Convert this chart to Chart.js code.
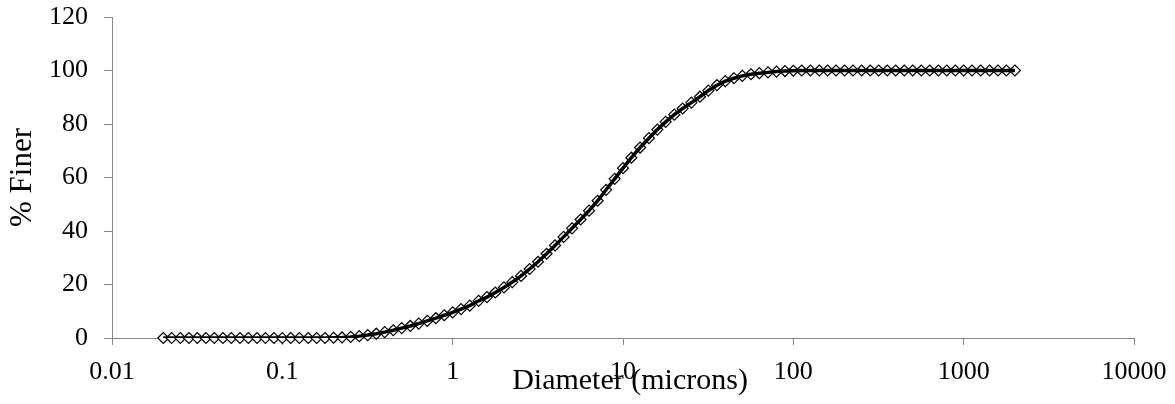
<!DOCTYPE html>
<html>
<head>
<meta charset="utf-8">
<script src="https://cdn.jsdelivr.net/npm/chart.js"></script>
<style>
  html, body { margin: 0; padding: 0; background: #fff; }
  #wrap { width: 1175px; height: 404px; }
</style>
</head>
<body>
<div id="wrap"><canvas id="chart" width="1175" height="404"></canvas></div>
<script>
// particle size classes (microns)
const diameters = [
    0.02, 0.0224, 0.0252, 0.0283, 0.0317, 0.0356, 0.0399, 0.0448, 0.0502, 0.0564,
    0.0632, 0.0710, 0.0796, 0.0893, 0.100, 0.112, 0.126, 0.142, 0.159, 0.178,
    0.200, 0.224, 0.252, 0.283, 0.317, 0.356, 0.399, 0.448, 0.502, 0.564,
    0.632, 0.710, 0.796, 0.893, 1.00, 1.12, 1.26, 1.42, 1.59, 1.78,
    2.00, 2.24, 2.52, 2.83, 3.17, 3.56, 3.99, 4.48, 5.02, 5.64,
    6.32, 7.10, 7.96, 8.93, 10.0, 11.2, 12.6, 14.2, 15.9, 17.8,
    20.0, 22.4, 25.2, 28.3, 31.7, 35.6, 39.9, 44.8, 50.2, 56.4,
    63.2, 71.0, 79.6, 89.3, 100, 112, 126, 142, 159, 178,
    200, 224, 252, 283, 317, 356, 399, 448, 502, 564,
    632, 710, 796, 893, 1000, 1120, 1260, 1420, 1590, 1780,
    2000
]

// cumulative % finer for each class
const percentFiner = [
    0, 0, 0, 0, 0, 0, 0, 0, 0, 0,
    0, 0, 0, 0, 0, 0, 0, 0, 0, 0,
    0.1, 0.2, 0.4, 0.7, 1.1, 1.6, 2.2, 2.9, 3.7, 4.5,
    5.4, 6.4, 7.4, 8.5, 9.6, 10.8, 12.1, 13.9, 15.3, 17.0,
    18.9, 20.9, 23.2, 25.8, 28.5, 31.5, 34.6, 37.8, 41.0, 44.3,
    47.6, 51.3, 55.4, 59.5, 63.5, 67.4, 71.2, 74.7, 77.9, 80.8,
    83.5, 85.8, 88.0, 90.2, 92.5, 94.5, 96.0, 97.1, 98.0, 98.6,
    99.0, 99.3, 99.6, 99.8, 99.9, 100, 100, 100, 100, 100,
    100, 100, 100, 100, 100, 100, 100, 100, 100, 100,
    100, 100, 100, 100, 100, 100, 100, 100, 100, 100,
    100
]

const xTicks = [0.01, 0.1, 1, 10, 100, 1000, 10000]
const yTicks = [0, 20, 40, 60, 80, 100, 120]

const points = diameters.map((d, i) => ({ x: d, y: percentFiner[i] }))

const axisColor = '#868686'
const serif = "'Liberation Serif', 'Times New Roman', serif"

// x title sits over the tick labels
const xTitle = {
    id: 'xTitle',
    afterDraw(chart) {
        const { ctx, chartArea } = chart
        ctx.save()
        ctx.font = '30px ' + serif
        ctx.fillStyle = '#000'
        ctx.textAlign = 'center'
        ctx.textBaseline = 'alphabetic'
        ctx.fillText('Diameter (microns)', (chartArea.left + chartArea.right) / 2 + 7, 389)
        ctx.restore()
    }
}

new Chart(document.getElementById('chart'), {
    type: 'scatter',
    data: {
        datasets: [
            {
                label: 'line',
                data: points,
                showLine: true,
                borderColor: '#000',
                borderWidth: 3.5,
                pointRadius: 0,
                pointHoverRadius: 0,
                fill: false,
            },
            {
                label: '% Finer',
                data: points,
                showLine: false,
                pointStyle: 'rectRot',
                pointRadius: 5.5,
                pointBorderWidth: 1.2,
                pointBorderColor: '#000',
                pointBackgroundColor: '#fff',
                clip: false,
            },
        ],
    },
    options: {
        responsive: false,
        animation: false,
        layout: {
            autoPadding: false,
            padding: { left: 0, top: 17, right: 41, bottom: 0 },
        },
        plugins: {
            legend: { display: false },
            title: { display: false },
            tooltip: { enabled: false },
        },
        scales: {
            x: {
                type: 'logarithmic',
                min: 0.01,
                max: 10000,
                afterBuildTicks: (scale) => {
                    scale.ticks = xTicks.map(v => ({ value: v }))
                },
                afterFit: (scale) => {
                    scale.height = 66
                    scale.paddingLeft = 0
                    scale.paddingRight = 0
                },
                ticks: {
                    color: '#000',
                    font: { family: serif, size: 26 },
                    padding: 12,
                    maxRotation: 0,
                    autoSkip: false,
                    callback: (v) => String(v),
                },
                grid: {
                    drawOnChartArea: false,
                    color: axisColor,
                    tickLength: 7,
                },
                border: { color: axisColor, width: 1 },
            },
            y: {
                min: 0,
                max: 120,
                afterBuildTicks: (scale) => {
                    scale.ticks = yTicks.map(v => ({ value: v }))
                },
                afterFit: (scale) => {
                    scale.width = 112
                    scale.paddingTop = 0
                    scale.paddingBottom = 0
                },
                ticks: {
                    color: '#000',
                    font: { family: serif, size: 26 },
                    padding: 16,
                },
                grid: {
                    drawOnChartArea: false,
                    color: axisColor,
                    tickLength: 8,
                },
                border: { color: axisColor, width: 1 },
                title: {
                    display: true,
                    text: '% Finer',
                    color: '#000',
                    font: { family: serif, size: 31 },
                    padding: { top: 4, bottom: 0 },
                },
            },
        },
    },
    plugins: [xTitle],
})
</script>
</body>
</html>
